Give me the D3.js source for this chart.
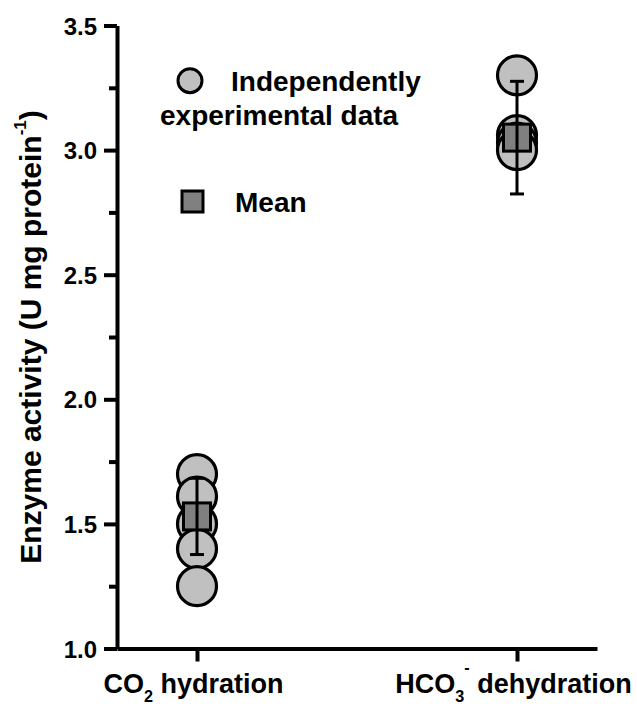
<!DOCTYPE html>
<html>
<head>
<meta charset="utf-8">
<script src="https://cdn.jsdelivr.net/npm/d3@7"></script>
<style>
  html, body { margin: 0; padding: 0; background: #fff; }
  svg { display: block; }
  text { font-family: "Liberation Sans", Arial, Helvetica, sans-serif; font-weight: bold; fill: #000; white-space: pre; }
</style>
</head>
<body>
<svg id="chart" width="637" height="710"></svg>
<script>
// ---- data ----
const categories = ["CO2 hydration", "HCO3- dehydration"];
const categoryLabelParts = [
  [["CO", ""], ["2", "sub"], [" hydration", ""]],
  [["HCO", ""], ["3", "sub"], ["-", "sup"], [" dehydration", ""]]
];
const co2Points = [1.70, 1.61, 1.50, 1.40, 1.25];
const hco3Points = [3.30, 3.06, 3.03, 3.00];
const means = [1.53, 3.05];
const errors = [0.153, 0.226];
const yTicks = [1.0, 1.5, 2.0, 2.5, 3.0, 3.5];
const yMinorTicks = [1.25, 1.75, 2.25, 2.75, 3.25];
const yTitle = "Enzyme activity (U mg protein";
const yTitleSup = "-1";
const legendPointLabel = ["Independently", "experimental data"];
const legendMeanLabel = "Mean";

// ---- layout ----
const svg = d3.select("#chart");
const axisX = 117, axisY = 648.5;
const y = d3.scaleLinear().domain([1.0, 3.5]).range([648.5, 25.5]);
const x = d3.scalePoint().domain(categories).range([117, 597]).padding(0.25);

const pointFill = "#c0c0c0";
const meanFill = "#808080";

// points
const pointSets = [co2Points, hco3Points];
const pts = [];
pointSets.forEach((arr, i) => arr.forEach(v => pts.push({c: categories[i], v})));

svg.append("g").selectAll("circle").data(pts).join("circle")
  .attr("cx", d => x(d.c)).attr("cy", d => y(d.v)).attr("r", 19.5)
  .attr("fill", pointFill).attr("stroke", "#000").attr("stroke-width", 3.2);

// means
const ms = categories.map((c, i) => ({c, m: means[i], e: errors[i]}));
const sq = 27;
svg.append("g").selectAll("rect").data(ms).join("rect")
  .attr("x", d => x(d.c) - sq / 2).attr("y", d => y(d.m) - sq / 2)
  .attr("width", sq).attr("height", sq)
  .attr("fill", meanFill).attr("stroke", "#000").attr("stroke-width", 3);

// error bars
const eb = svg.append("g").attr("stroke", "#000").attr("stroke-width", 3);
ms.forEach(d => {
  const cx = x(d.c);
  eb.append("line").attr("x1", cx).attr("x2", cx).attr("y1", y(d.m + d.e)).attr("y2", y(d.m - d.e));
  eb.append("line").attr("x1", cx - 7).attr("x2", cx + 7).attr("y1", y(d.m + d.e)).attr("y2", y(d.m + d.e));
  eb.append("line").attr("x1", cx - 7).attr("x2", cx + 7).attr("y1", y(d.m - d.e)).attr("y2", y(d.m - d.e));
});

// y axis
const yAxisG = svg.append("g").attr("transform", `translate(${axisX},0)`)
  .call(d3.axisLeft(y).tickValues(yTicks).tickSize(13).tickSizeOuter(0).tickPadding(7).tickFormat(d3.format(".1f")));
yAxisG.append("g").call(d3.axisLeft(y).tickValues(yMinorTicks).tickSize(8).tickSizeOuter(0).tickFormat(""))
  .select(".domain").remove();
yAxisG.selectAll("line").attr("stroke-width", 4);
yAxisG.selectAll(".domain").attr("stroke-width", 4);
yAxisG.selectAll("text").attr("font-size", 24).attr("font-family", null).attr("font-weight", "bold").attr("dy", "0.36em");

// x axis
const xAxisG = svg.append("g").attr("transform", `translate(0,${axisY})`)
  .call(d3.axisBottom(x).tickSize(13).tickSizeOuter(0).tickFormat(""));
xAxisG.selectAll("line").attr("stroke-width", 4);
xAxisG.selectAll(".domain").attr("stroke-width", 4);
xAxisG.selectAll(".tick text").remove();

function addRich(textSel, parts, size, subDy, supDy) {
  let shift = 0;
  parts.forEach(([t, kind]) => {
    const target = kind === "sub" ? subDy : kind === "sup" ? supDy : 0;
    textSel.append("tspan").attr("dy", target - shift)
      .attr("font-size", kind ? size * 0.6 : size).text(t);
    shift = target;
  });
}
xAxisG.selectAll(".tick").each(function(d, i) {
  const t = d3.select(this).append("text")
    .attr("y", 44.5).attr("x", -4).attr("text-anchor", "middle").attr("font-size", 27);
  addRich(t, categoryLabelParts[i], 27, 9, -20);
});

// y title
const yt = svg.append("text").attr("transform", "translate(41,337) rotate(-90)")
  .attr("text-anchor", "middle").attr("font-size", 30);
yt.append("tspan").text(yTitle);
yt.append("tspan").attr("dy", -15).attr("font-size", 17).text(yTitleSup);
yt.append("tspan").attr("dy", 15).text(")");

// legend
const lg = svg.append("g");
lg.append("circle").attr("cx", 190).attr("cy", 80.7).attr("r", 12)
  .attr("fill", pointFill).attr("stroke", "#000").attr("stroke-width", 3);
lg.append("text").attr("x", 231).attr("y", 91).attr("font-size", 28).text(legendPointLabel[0]);
lg.append("text").attr("x", 160).attr("y", 125).attr("font-size", 28).text(legendPointLabel[1]);
lg.append("rect").attr("x", 182).attr("y", 191).attr("width", 21).attr("height", 21)
  .attr("fill", meanFill).attr("stroke", "#000").attr("stroke-width", 3);
lg.append("text").attr("x", 235).attr("y", 212).attr("font-size", 28).text(legendMeanLabel);
</script>
</body>
</html>
